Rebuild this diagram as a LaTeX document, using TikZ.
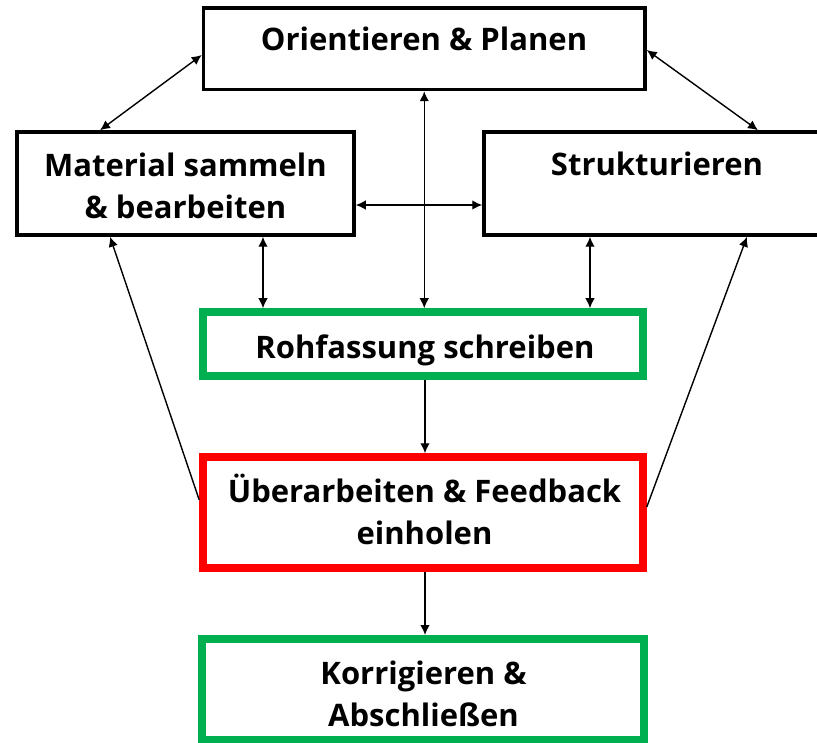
\documentclass[tikz,border=0pt]{standalone}
\usepackage{fontspec}
\setmainfont{Open Sans}
\usetikzlibrary{arrows.meta}
\definecolor{boxgreen}{HTML}{00B050}
\definecolor{boxred}{HTML}{FF0000}
\begin{document}
\begin{tikzpicture}[x=1pt,y=-1pt,
  box/.style={draw=black,line width=3.5pt,rectangle,inner sep=0pt,fill=none},
  gbox/.style={draw=boxgreen,line width=7.5pt,rectangle,inner sep=0pt},
  rbox/.style={draw=boxred,line width=7.5pt,rectangle,inner sep=0pt},
  lbl/.style={font=\fontsize{31}{42}\selectfont\bfseries,align=center,anchor=base,inner sep=0pt},
  conn/.style={line width=1.4pt,-{Latex[length=10pt,width=9.5pt]}},
  dconn/.style={line width=1.4pt,{Latex[length=10pt,width=9.5pt]}-{Latex[length=10pt,width=9.5pt]}}]
\useasboundingbox (0,0) rectangle (817,743);
\fill[white] (0,0) rectangle (817,743);
% boxes
\node[box,minimum width=441.5pt,minimum height=81.5pt] (ori) at (424.25,48.75) {};
\node[box,minimum width=337pt,minimum height=103pt] (mat) at (185.5,183.5) {};
\node[box,minimum width=346pt,minimum height=103pt] (str) at (657,183.5) {};
\node[gbox,minimum width=440pt,minimum height=64pt] (roh) at (423,344) {};
\node[rbox,minimum width=440pt,minimum height=111pt] (ueb) at (423,512.5) {};
\node[gbox,minimum width=442pt,minimum height=100.5pt] (kor) at (423,689) {};
% texts (base anchor = baseline of last line)
\node[lbl] (tori) at (424,51) {Orientieren \& Planen};
\node[lbl] (tmat) at (185.5,219) {Material sammeln\\\& bearbeiten};
\node[lbl] (tstr) at (657,176) {Strukturieren};
\node[lbl] (troh) at (425,359) {Rohfassung schreiben};
\node[lbl] (tueb) at (424.5,544) {Überarbeiten \& Feedback\\einholen};
\node[lbl] (tkor) at (423.5,726) {Korrigieren \&\\Abschließen};
% helper coordinates
\coordinate (matR) at ([xshift=77.5pt]mat.south);
\coordinate (strR) at ([xshift=-67pt]str.south);
% connectors
\draw[dconn] ([yshift=-6.25pt]ori.west) -- ([xshift=-85.5pt]mat.north);
\draw[dconn] ([yshift=-1.25pt]ori.east) -- ([xshift=101pt]str.north);
\draw[dconn] (ori.south) -- (ori.south |- roh.north);
\draw[dconn] ([yshift=-21.5pt]mat.east) -- ([yshift=-21.5pt]str.west);
\draw[dconn] (matR) -- (matR |- roh.north);
\draw[dconn] (strR) -- (strR |- roh.north);
\draw[conn] ([xshift=2pt]roh.south) -- ([xshift=2pt]ueb.north);
\draw[conn] ([yshift=12.5pt]ueb.west) -- ([xshift=-75.5pt]mat.south);
\draw[conn] ([yshift=5.5pt]ueb.east) -- ([xshift=90pt]str.south);
\draw[conn] ([xshift=2pt]ueb.south) -- ([xshift=2pt]kor.north);
\end{tikzpicture}
\end{document}
